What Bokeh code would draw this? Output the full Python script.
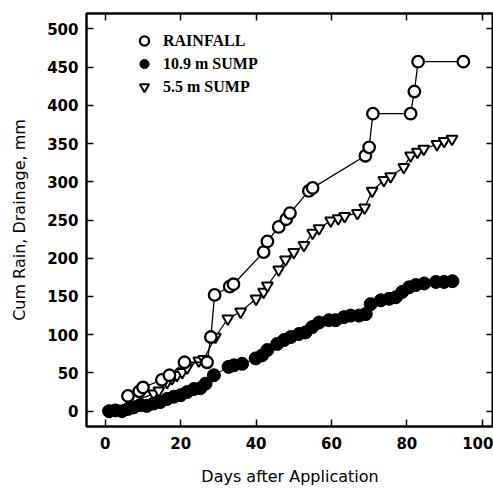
from bokeh.plotting import figure
from bokeh.models import Range1d, LinearAxis, Legend, LegendItem, FixedTicker, CustomJSTickFormatter
from bokeh.embed import file_html
from bokeh.resources import INLINE

# Rainfall (cumulative, mm)
rain_day = [6, 9, 10, 15, 17, 21, 27, 28, 29, 33, 34, 42, 43, 46, 48, 49,
            54, 55, 69, 70, 71, 81, 82, 83, 95]
rain_val = [20, 26, 31, 41, 47, 64, 64, 97, 152, 163, 166, 208, 222, 241, 251, 259,
            288, 292, 334, 345, 389, 389, 418, 457, 457]

# 10.9 m sump drainage (cumulative, mm)
s109_day = [1, 2.7, 4.4, 6, 7.5, 9.3, 11, 12.8, 14.6, 16.4, 18.2, 20, 21.7, 23.5, 25.2,
            26.6, 28.8, 32.7, 34.1, 36.3, 39.9, 41.6, 43, 45.6, 47.4, 49.2, 51.4, 53.1,
            54.9, 56.7, 59.3, 61.1, 63.3, 65.1, 67.3, 69.1, 70.4, 73.1, 75.3, 77.1, 78.8,
            80.6, 82.4, 84.6, 87.7, 89.9, 92.1]
s109_val = [0, 1, 0, 3, 5, 8, 7, 10, 12, 16, 19, 21, 25, 29, 30,
            36, 47, 58, 60, 62, 69, 73, 80, 88, 93, 97, 101, 103,
            110, 116, 119, 119, 123, 125, 125, 127, 140, 145, 147, 149, 156,
            162, 165, 167, 169, 169, 170]

# 5.5 m sump drainage (cumulative, mm)
s55_day = [1, 12.8, 14.2, 16.4, 17.7, 19, 20.4, 21.7, 24.8, 26.1, 29.2, 32.5, 35.9, 40,
           42, 43, 46, 47.8, 50, 52.7, 55, 56.7, 59.8, 61.8, 63.5, 66.9, 68.8, 70.8,
           73.9, 75.7, 79.2, 81, 82.8, 84.5, 88, 89.9, 92]
s55_val = [0, 23, 27, 38, 43, 47, 51, 57, 66, 68, 97, 121, 130, 147,
           156, 164, 185, 198, 208, 217, 233, 239, 249, 252, 255, 259, 266, 288,
           302, 307, 319, 334, 339, 343, 349, 353, 356]

x_ticks = [0, 20, 40, 60, 80, 100]
y_ticks = [0, 50, 100, 150, 200, 250, 300, 350, 400, 450, 500]

TICK_FONT = "DejaVu Sans"
LABEL_FONT = "DejaVu Sans"
LEG_FONT = "Liberation Serif"

p = figure(width=493, height=488, output_backend="svg", toolbar_location=None,
           x_range=Range1d(-5, 103), y_range=Range1d(-20, 520),
           min_border_left=86, min_border_right=0, min_border_top=13,
           min_border_bottom=59)
p.grid.visible = False
p.outline_line_color = "black"
p.outline_line_width = 2
p.background_fill_color = "white"
p.border_fill_color = "white"

for ax in (p.xaxis[0], p.yaxis[0]):
    ax.major_tick_in = 7
    ax.major_tick_out = 0
    ax.minor_tick_in = 0
    ax.minor_tick_out = 0
    ax.axis_line_width = 2
    ax.major_tick_line_width = 1.5
    ax.major_label_text_font = TICK_FONT
    ax.major_label_text_font_style = "bold"
    ax.major_label_text_font_size = "15px"
    ax.major_label_text_color = "black"
    ax.axis_label_text_font = LABEL_FONT
    ax.axis_label_text_font_style = "normal"
    ax.axis_label_text_font_size = "16px"
    ax.axis_label_text_color = "black"

p.xaxis[0].ticker = FixedTicker(ticks=x_ticks)
p.yaxis[0].ticker = FixedTicker(ticks=y_ticks)
p.xaxis[0].axis_label = "Days after Application"
p.yaxis[0].axis_label = "Cum Rain, Drainage, mm"
p.xaxis[0].major_label_standoff = 10
p.yaxis[0].major_label_standoff = 8
p.xaxis[0].axis_label_standoff = 15
p.yaxis[0].axis_label_standoff = 15

top = LinearAxis(ticker=FixedTicker(ticks=x_ticks))
right = LinearAxis(ticker=FixedTicker(ticks=y_ticks))
for ax in (top, right):
    ax.major_tick_in = 7
    ax.major_tick_out = 0
    ax.minor_tick_in = 0
    ax.minor_tick_out = 0
    ax.axis_line_width = 2
    ax.major_tick_line_width = 1.5
    ax.formatter = CustomJSTickFormatter(code="return ''")
    ax.major_label_standoff = 0
p.add_layout(top, "above")
p.add_layout(right, "right")

# 5.5 m sump
p.line(s55_day, s55_val, line_color="black", line_width=1.2)
r55 = p.scatter(s55_day, s55_val, marker="inverted_triangle", size=11,
                fill_color="white", line_color="black", line_width=2)
# 10.9 m sump
p.line(s109_day, s109_val, line_color="black", line_width=1)
r109 = p.scatter(s109_day, s109_val, marker="circle", size=13,
                 fill_color="black", line_color="black")
# Rainfall
p.line(rain_day, rain_val, line_color="black", line_width=1.3)
rrain = p.scatter(rain_day, rain_val, marker="circle", size=11.5,
                  fill_color="white", line_color="black", line_width=2.3)

legend = Legend(items=[LegendItem(label="RAINFALL", renderers=[rrain]),
                       LegendItem(label="10.9 m SUMP", renderers=[r109]),
                       LegendItem(label="5.5 m SUMP", renderers=[r55])],
                location=(46, 328))
legend.background_fill_alpha = 0
legend.border_line_alpha = 0
legend.padding = 0
legend.margin = 0
legend.spacing = 0
legend.glyph_width = 24
legend.glyph_height = 23
legend.label_height = 23
legend.label_standoff = 7
legend.label_text_font = LEG_FONT
legend.label_text_font_style = "bold"
legend.label_text_font_size = "16px"
legend.label_text_color = "black"
p.add_layout(legend)

open("out.html", "w").write(file_html(p, INLINE))
